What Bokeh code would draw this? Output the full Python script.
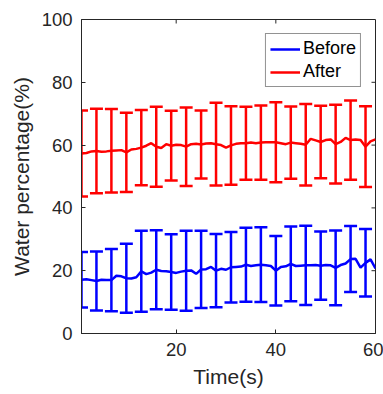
import numpy as np
from bokeh.plotting import figure
from bokeh.models import ColumnDataSource, Whisker, TeeHead, Range1d, FixedTicker, Legend, LegendItem
from bokeh.embed import file_html
from bokeh.resources import INLINE

time_s = list(range(1, 61))

before_mean = [17.1, 17.3, 17.0, 16.7, 17.1, 17.0, 17.0, 18.4, 18.2, 17.6, 17.5, 17.9, 19.8, 18.9, 19.4,
               20.3, 19.9, 19.8, 19.6, 19.3, 19.7, 20.0, 20.1, 19.0, 20.4, 20.5, 21.2, 20.0, 20.6, 20.3,
               21.1, 21.2, 21.3, 21.9, 21.5, 21.7, 21.9, 21.7, 21.5, 20.0, 21.2, 21.4, 22.2, 21.5, 21.6,
               21.7, 21.7, 21.8, 21.6, 21.8, 21.7, 20.9, 21.8, 22.3, 23.7, 23.8, 21.0, 22.5, 23.6, 20.7]

after_mean = [57.3, 57.5, 58.0, 58.1, 57.9, 58.0, 58.2, 58.3, 58.4, 57.7, 58.6, 58.8, 59.2, 59.8, 60.6,
              59.5, 59.1, 60.3, 59.8, 60.1, 60.0, 59.5, 60.3, 60.4, 60.2, 60.5, 60.6, 60.3, 60.0, 59.2,
              59.9, 60.4, 60.6, 60.6, 60.8, 60.6, 60.8, 60.9, 60.9, 60.9, 60.6, 60.3, 60.8, 60.6, 60.4,
              60.1, 62.0, 61.5, 61.0, 61.6, 61.8, 60.3, 61.0, 62.3, 61.6, 61.8, 61.6, 59.5, 61.2, 61.8]

bar_time = [1, 4, 7, 10, 13, 16, 19, 22, 25, 28, 31, 34, 37, 40, 43, 46, 49, 52, 55, 58]
before_sd = [8.85, 9.4, 9.95, 11.0, 12.9, 12.6, 12.0, 12.75, 12.3, 11.65,
             11.25, 11.8, 11.9, 11.05, 11.9, 12.6, 10.85, 11.9, 10.5, 10.75]
after_sd = [13.7, 13.45, 13.3, 12.6, 12.0, 12.75, 11.1, 12.5, 10.85, 13.2,
            12.5, 11.65, 11.8, 12.75, 11.5, 12.95, 11.55, 12.55, 12.6, 12.85]

x_ticks = [20, 40, 60]
y_ticks = [0, 20, 40, 60, 80, 100]
x_lim = (1, 60)
y_lim = (0, 100)

BLUE = "#0000FF"
RED = "#FF0000"
AX = "#262626"
FONT = "Liberation Sans"

p = figure(width=383, height=394, output_backend="svg", toolbar_location=None,
           x_range=Range1d(*x_lim), y_range=Range1d(*y_lim),
           min_border_left=81, min_border_right=8, min_border_top=19, min_border_bottom=61)
p.xgrid.visible = False
p.ygrid.visible = False
p.outline_line_color = AX
p.outline_line_width = 1
p.background_fill_color = "white"
p.border_fill_color = "white"

def idx(t):
    return time_s.index(t)

src_b = ColumnDataSource(dict(x=bar_time,
                              lo=[before_mean[idx(t)] - s for t, s in zip(bar_time, before_sd)],
                              hi=[before_mean[idx(t)] + s for t, s in zip(bar_time, before_sd)]))
src_a = ColumnDataSource(dict(x=bar_time,
                              lo=[after_mean[idx(t)] - s for t, s in zip(bar_time, after_sd)],
                              hi=[after_mean[idx(t)] + s for t, s in zip(bar_time, after_sd)]))

for src, col in ((src_b, BLUE), (src_a, RED)):
    w = Whisker(source=src, base="x", lower="lo", upper="hi", dimension="height",
                line_color=col, line_width=2.5,
                upper_head=TeeHead(size=13, line_color=col, line_width=2.5),
                lower_head=TeeHead(size=13, line_color=col, line_width=2.5))
    p.add_layout(w)

rb = p.line(time_s, before_mean, line_color=BLUE, line_width=2.5)
ra = p.line(time_s, after_mean, line_color=RED, line_width=2.5)

# mirrored inward ticks on the top and right edges of the box
tick_dx = (x_lim[1] - x_lim[0]) / 294 * 4
tick_dy = (y_lim[1] - y_lim[0]) / 314 * 4
top_x = [t for t in x_ticks if x_lim[0] < t < x_lim[1]]
p.segment(x0=top_x, y0=[y_lim[1]] * len(top_x), x1=top_x, y1=[y_lim[1] - tick_dy] * len(top_x),
          line_color=AX, line_width=1)
right_y = [t for t in y_ticks if y_lim[0] < t < y_lim[1]]
p.segment(x0=[x_lim[1]] * len(right_y), y0=right_y, x1=[x_lim[1] - tick_dx] * len(right_y), y1=right_y,
          line_color=AX, line_width=1)

for ax in (p.xaxis[0], p.yaxis[0]):
    ax.axis_line_color = AX
    ax.major_tick_line_color = AX
    ax.minor_tick_line_color = None
    ax.major_tick_in = 4
    ax.major_tick_out = 0
    ax.major_label_text_font = FONT
    ax.major_label_text_font_size = "18.5px"
    ax.major_label_text_color = AX
    ax.axis_label_text_font = FONT
    ax.axis_label_text_font_size = "21px"
    ax.axis_label_text_font_style = "normal"
    ax.axis_label_text_color = AX

p.xaxis[0].ticker = FixedTicker(ticks=x_ticks)
p.yaxis[0].ticker = FixedTicker(ticks=y_ticks)
p.xaxis[0].axis_label = "Time(s)"
p.yaxis[0].axis_label = "Water percentage(%)"
p.xaxis[0].major_label_standoff = 9
p.yaxis[0].major_label_standoff = 9
p.xaxis[0].axis_label_standoff = 6
p.yaxis[0].axis_label_standoff = 6

legend = Legend(items=[LegendItem(label="Before", renderers=[rb]),
                       LegendItem(label="After", renderers=[ra])],
                location="top_right")
legend.label_text_font = FONT
legend.label_text_font_size = "18px"
legend.label_text_color = "black"
legend.glyph_width = 30
legend.glyph_height = 20
legend.label_height = 20
legend.spacing = 2
legend.padding = 4
legend.margin = 14
legend.label_standoff = 3
legend.border_line_color = AX
legend.border_line_width = 1
legend.background_fill_alpha = 1
p.add_layout(legend)

open("out.html", "w").write(file_html(p, INLINE))
